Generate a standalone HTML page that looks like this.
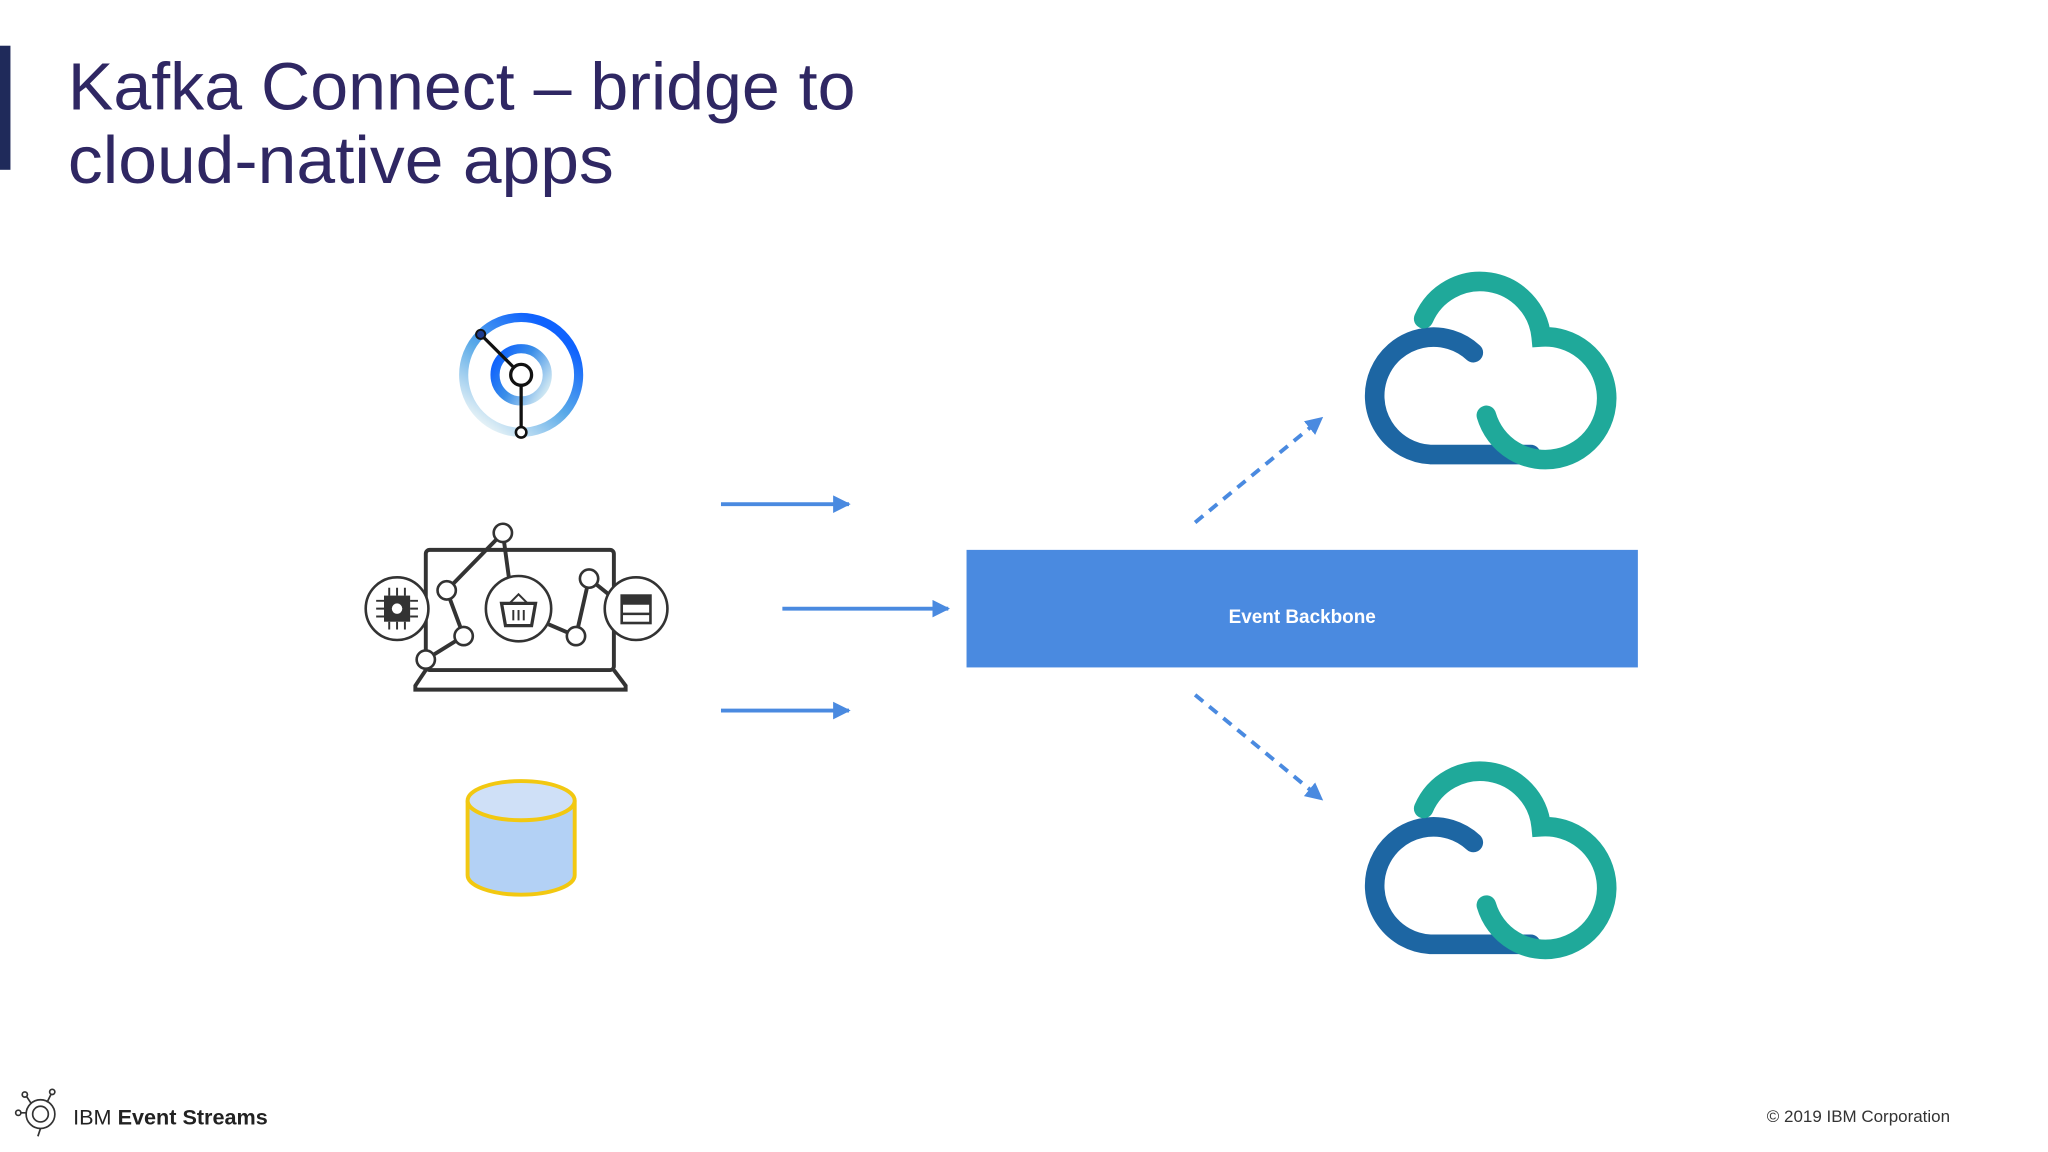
<!DOCTYPE html>
<html><head><meta charset="utf-8"><style>html,body{margin:0;padding:0;background:#fff}svg{display:block}</style></head>
<body>
<svg width="2048" height="1152" viewBox="0 0 1568 882" xmlns="http://www.w3.org/2000/svg">
<defs>
<marker id="ah" viewBox="0 0 10 10" refX="9" refY="5" markerWidth="4.5" markerHeight="4.5" orient="auto"><path d="M0,0 L10,5 L0,10 z" fill="#4a8ae0"/></marker>
<linearGradient id="og" x1="0.6" y1="0" x2="0" y2="0.8"><stop offset="0" stop-color="#0f62fe"/><stop offset="0.5" stop-color="#5aaae8"/><stop offset="1" stop-color="#e4f1f6"/></linearGradient>
<linearGradient id="ig" x1="0" y1="0.2" x2="1" y2="0.8"><stop offset="0" stop-color="#0f62fe"/><stop offset="0.45" stop-color="#3a8ee8"/><stop offset="1" stop-color="#d0e8f2"/></linearGradient>
<g id="cloud">
<path d="M1128,270 A45,45 0 1 0 1095,348 L1172,348" fill="none" stroke="#1d66a3" stroke-width="15" stroke-linecap="round"/>
<path d="M1090,244 A47,47 0 0 1 1180,258 A47,47 0 1 1 1138,318" fill="none" stroke="#1fa99a" stroke-width="15" stroke-linecap="round"/>
</g>
</defs>
<rect x="0" y="35" width="8" height="95" fill="#1f2a5a"/>
<text font-family="Liberation Sans, sans-serif" font-size="51" fill="#2f2763">
<tspan x="52" y="84" textLength="603" lengthAdjust="spacingAndGlyphs">Kafka Connect – bridge to</tspan>
<tspan x="52" y="140" textLength="418" lengthAdjust="spacingAndGlyphs">cloud-native apps</tspan>
</text>

<circle cx="399" cy="287" r="44" fill="none" stroke="url(#og)" stroke-width="7"/>
<circle cx="399" cy="287" r="20" fill="none" stroke="url(#ig)" stroke-width="7"/>
<line x1="399" y1="287" x2="368" y2="256" stroke="#111" stroke-width="2.5"/>
<line x1="399" y1="287" x2="399" y2="331" stroke="#111" stroke-width="2.5"/>
<circle cx="399" cy="287" r="8" fill="#fff" stroke="#111" stroke-width="2.5"/>
<circle cx="368" cy="256" r="3.5" fill="#1d3c8f" stroke="#111" stroke-width="1.5"/>
<circle cx="399" cy="331" r="4" fill="#fff" stroke="#111" stroke-width="2"/>

<g stroke="#333" stroke-width="3" fill="none">
<rect x="326" y="421" width="144" height="92" rx="3"/>
<path d="M326,513 L318,525 L318,528 L479,528 L479,525 L470,513"/>
<path d="M326,505 L355,487 L342,452 L385,408 L390,445 M420,478 L441,487 L451,443 L466,455"/>
</g>
<g stroke="#333" stroke-width="2" fill="#fff">
<circle cx="304" cy="466" r="24"/><circle cx="397" cy="466" r="25"/><circle cx="487" cy="466" r="24"/>
<circle cx="385" cy="408" r="7"/><circle cx="342" cy="452" r="7"/><circle cx="355" cy="487" r="7"/>
<circle cx="326" cy="505" r="7"/><circle cx="441" cy="487" r="7"/><circle cx="451" cy="443" r="7"/>
</g>
<rect x="294" y="456" width="20" height="20" fill="#333"/><circle cx="304" cy="466" r="4" fill="#fff"/>
<g stroke="#333" stroke-width="1.5"><path d="M288,460h6M288,466h6M288,472h6M314,460h6M314,466h6M314,472h6M298,450v6M304,450v6M310,450v6M298,476v6M304,476v6M310,476v6"/></g>
<path d="M384,462 L410,462 L407,479 L387,479 Z" fill="none" stroke="#333" stroke-width="2.5"/>
<path d="M390,462 L397,455 L404,462 M393,467v8M397,467v8M401,467v8" fill="none" stroke="#333" stroke-width="1.5"/>
<rect x="476" y="456" width="22" height="21" fill="none" stroke="#333" stroke-width="2"/>
<rect x="476" y="456" width="22" height="7" fill="#333"/><line x1="476" y1="470" x2="498" y2="470" stroke="#333" stroke-width="2"/>

<path d="M358,613 L358,670 A41,15 0 0 0 440,670 L440,613" fill="#b3d1f5" stroke="#f2c811" stroke-width="3"/>
<ellipse cx="399" cy="613" rx="41" ry="15" fill="#cfe0f7" stroke="#f2c811" stroke-width="3"/>

<g stroke="#4a8ae0" stroke-width="3" marker-end="url(#ah)">
<line x1="552" y1="386" x2="650" y2="386"/>
<line x1="599" y1="466" x2="726" y2="466"/>
<line x1="552" y1="544" x2="650" y2="544"/>
<line x1="915" y1="400" x2="1012" y2="320" stroke-dasharray="8,6"/>
<line x1="915" y1="532" x2="1012" y2="612" stroke-dasharray="8,6"/>
</g>

<rect x="740" y="421" width="514" height="90" fill="#4a8ae0"/>
<text x="997" y="477" font-family="Liberation Sans, sans-serif" font-size="14.5" font-weight="bold" fill="#fff" text-anchor="middle">Event Backbone</text>

<use href="#cloud"/>
<use href="#cloud" transform="translate(0,375)"/>

<g fill="none" stroke="#333" stroke-width="1.3">
<circle cx="31" cy="853" r="11"/><circle cx="31" cy="853" r="6"/>
<path d="M20,852h-4M24,845l-4,-6M36,844l3,-6M31,864l-2,6"/>
<circle cx="14" cy="852" r="2"/><circle cx="19" cy="838" r="2"/><circle cx="40" cy="836" r="2"/>
</g>
<text x="56" y="861" font-family="Liberation Sans, sans-serif" font-size="16" fill="#222" textLength="149" lengthAdjust="spacingAndGlyphs">IBM <tspan font-weight="bold">Event Streams</tspan></text>
<text x="1493" y="859" font-family="Liberation Sans, sans-serif" font-size="13" fill="#333" text-anchor="end">© 2019 IBM Corporation</text>
</svg>
</body></html>
